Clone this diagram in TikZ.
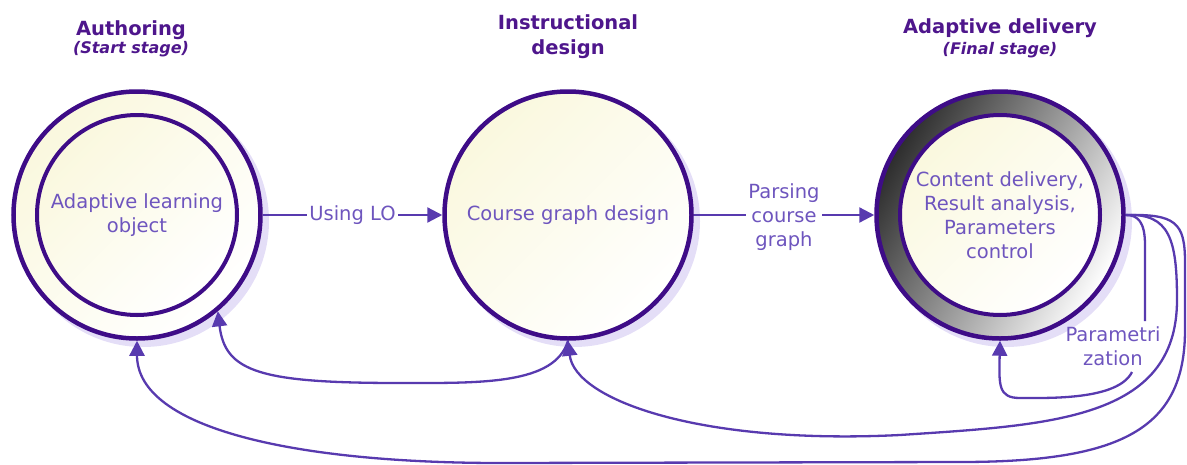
\documentclass[tikz,border=0pt]{standalone}
\usepackage{fontspec}
\setmainfont{DejaVu Sans}
\usetikzlibrary{arrows.meta,calc}
\definecolor{bordercol}{RGB}{62,12,135}
\definecolor{linkcol}{RGB}{88,58,175}
\definecolor{labelcol}{RGB}{110,85,190}
\definecolor{titlecol}{RGB}{78,22,140}
\definecolor{shadowcol}{RGB}{228,222,247}
\definecolor{yelcol}{RGB}{250,248,222}
\definecolor{ringdark}{RGB}{45,45,45}
\begin{document}
\begin{tikzpicture}[x=1pt,y=-1pt,
  titletext/.style={font=\fontsize{19.5}{25}\selectfont\bfseries, text=titlecol, align=center, inner sep=0pt},
  subtitletext/.style={font=\fontsize{16}{20}\selectfont\bfseries\itshape, text=titlecol, inner sep=0pt},
  bodytext/.style={font=\fontsize{19.5}{24}\selectfont, text=labelcol, align=center},
  stageouter/.style={circle, minimum size=247pt, inner sep=0pt, draw=bordercol, line width=4.5pt},
  stageinner/.style={circle, minimum size=200pt, inner sep=0pt, draw=bordercol, line width=4pt, bodytext},
  yelfill/.style={top color=yelcol, middle color=yelcol!30!white, bottom color=white, shading angle=45},
  ringfill/.style={top color=ringdark, bottom color=white, shading angle=60},
  shadowdisc/.style={fill=shadowcol},
  link/.style={draw=linkcol, line width=2.3pt, -{Triangle[length=15pt,width=15pt]}},
  plainlink/.style={draw=linkcol, line width=2.3pt},
  linklabel/.style={bodytext, fill=white, inner sep=2pt}
]
\useasboundingbox (0,0) rectangle (1187,464);

% shadows
\fill[shadowdisc] (143,221) circle[radius=126pt];
\fill[shadowdisc] (574,221) circle[radius=126pt];
\fill[shadowdisc] (1006,221) circle[radius=126pt];

% stages
\node[stageouter, yelfill] (c1) at (137,215) {};
\node[stageinner, yelfill] (c1i) at (c1) {Adaptive learning\\object};
\node[stageouter, yelfill, bodytext] (c2) at (568,215) {Course graph design};
\node[stageouter, ringfill] (c3) at (1000,215) {};
\node[stageinner, yelfill] (c3i) at (c3) {Content delivery,\\Result analysis,\\Parameters\\control};

% titles
\node[titletext, anchor=base] (t1) at (131,35) {Authoring};
\node[subtitletext] (s1) at (131,49) {(Start stage)};
\node[titletext, anchor=north] (t2) at (568,14) {Instructional\\design};
\node[titletext, anchor=base] (t3) at (1000,33) {Adaptive delivery};
\node[subtitletext] (s3) at (1000,50) {(Final stage)};

% forward connectors
\draw[link] (c1.east) -- node[linklabel] (l1) {Using LO} (c2.west);
\draw[link] (c2.east) -- node[linklabel, yshift=-2pt] (l2) {Parsing\\course\\graph} (c3.west);

% back connectors
\draw[link] (c3.east) .. controls (1170,213) and (1177,240) .. (1177,300)
  .. controls (1177,420) and (1050,425) .. (900,435)
  .. controls (700,445) and (575,400) .. (c2.south);
\draw[link] (c3.east) .. controls (1175,214) and (1185,222) .. (1185,262) -- (1185,330)
  .. controls (1185,430) and (1120,462) .. (960,462) -- (500,463)
  .. controls (300,463) and (137,430) .. (c1.south);
\draw[link] (c2.south) .. controls (555,385) and (480,383) .. (400,383)
  .. controls (260,383) and (225,372) .. (c1.-50);

% parametrization loop
\node[bodytext, inner sep=0pt] (pz) at (1113,346) {Parametri\\zation};
\coordinate (pa) at (1145,321);
\coordinate (pb) at (1132,372);
\draw[plainlink] (c3.east) .. controls (1138,215) and (1145,222) .. (1145,245) -- (pa);
\draw[link] (pb) .. controls (1118,400) and (1050,398) .. (1020,398)
  .. controls (998,398) and (999,385) .. (c3.south);
\end{tikzpicture}
\end{document}
